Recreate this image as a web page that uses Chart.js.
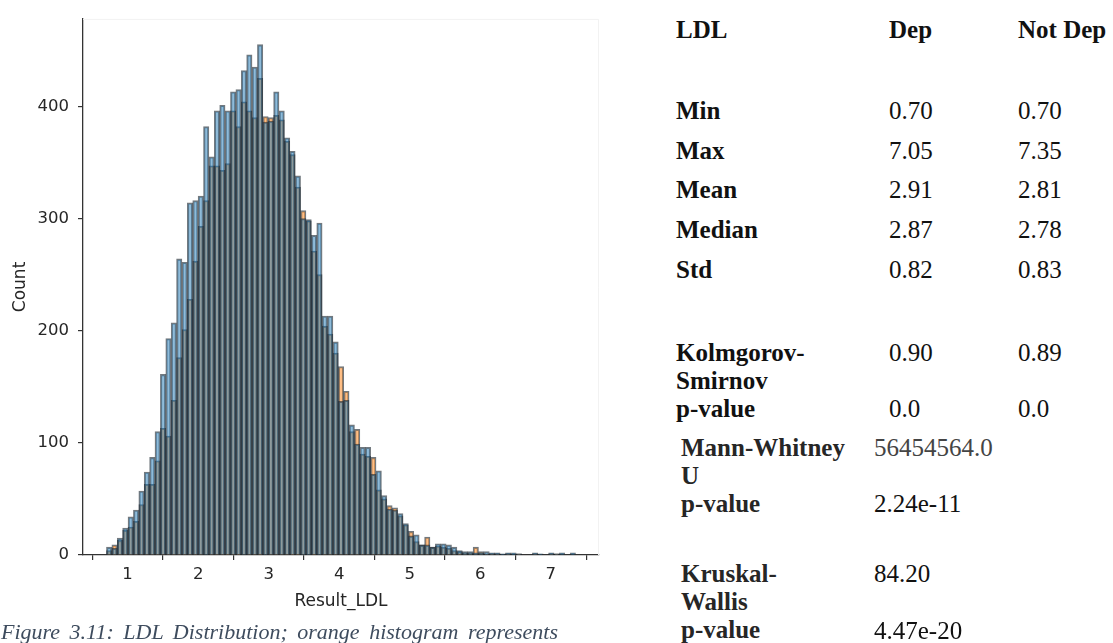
<!DOCTYPE html>
<html>
<head>
<meta charset="utf-8">
<title>LDL Distribution</title>
<script src="https://cdn.jsdelivr.net/npm/chart.js@4.4.1/dist/chart.umd.min.js"></script>
<style>
    html, body { margin: 0; padding: 0; background: #fff; }
    body { position: relative; width: 1113px; height: 643px; overflow: hidden; }
    #chart-ldl { position: absolute; left: 0; top: 0; filter: blur(0.45px); }
    .cell {
        position: absolute;
        font-family: "Liberation Serif", "Times New Roman", serif;
        font-size: 25px;
        line-height: 28px;
        white-space: nowrap;
        color: #111;
    }
    .lbl { font-weight: bold; }
    .soft { color: #262626; }
    .grey { color: #444; }
    .caption {
        position: absolute;
        left: 1px;
        top: 619px;
        width: 557px;
        font-family: "Liberation Serif", "Times New Roman", serif;
        font-style: italic;
        font-size: 22px;
        line-height: 26px;
        color: #3e4c5e;
        text-align: justify;
        text-align-last: justify;
        white-space: nowrap;
    }
</style>
</head>
<body>

<canvas id="chart-ldl" width="620" height="620"></canvas>

<!-- Tabella statistiche LDL -->
<div class="cell lbl" style="left:676px; top:16px;">LDL</div>
<div class="cell lbl" style="left:889px; top:16px;">Dep</div>
<div class="cell lbl" style="left:1018px; top:16px;">Not Dep</div>

<div class="cell lbl" style="left:676px; top:97px;">Min</div>
<div class="cell" style="left:889px; top:97px;">0.70</div>
<div class="cell" style="left:1018px; top:97px;">0.70</div>

<div class="cell lbl" style="left:676px; top:137px;">Max</div>
<div class="cell" style="left:889px; top:137px;">7.05</div>
<div class="cell" style="left:1018px; top:137px;">7.35</div>

<div class="cell lbl" style="left:676px; top:176px;">Mean</div>
<div class="cell" style="left:889px; top:176px;">2.91</div>
<div class="cell" style="left:1018px; top:176px;">2.81</div>

<div class="cell lbl" style="left:676px; top:216px;">Median</div>
<div class="cell" style="left:889px; top:216px;">2.87</div>
<div class="cell" style="left:1018px; top:216px;">2.78</div>

<div class="cell lbl" style="left:676px; top:256px;">Std</div>
<div class="cell" style="left:889px; top:256px;">0.82</div>
<div class="cell" style="left:1018px; top:256px;">0.83</div>

<div class="cell lbl" style="left:676px; top:339px;">Kolmgorov-<br>Smirnov<br>p-value</div>
<div class="cell" style="left:889px; top:339px;">0.90<br><br>0.0</div>
<div class="cell" style="left:1018px; top:339px;">0.89<br><br>0.0</div>

<div class="cell lbl soft" style="left:681px; top:434px;">Mann-Whitney<br>U<br>p-value</div>
<div class="cell grey" style="left:874px; top:434px;">56454564.0</div>
<div class="cell" style="left:874px; top:490px;">2.24e-11</div>

<div class="cell lbl soft" style="left:681px; top:560px;">Kruskal-<br>Wallis<br>p-value</div>
<div class="cell" style="left:874px; top:560px;">84.20</div>
<div class="cell" style="left:874px; top:617px;">4.47e-20</div>

<div class="caption">Figure 3.11: LDL Distribution; orange histogram represents</div>

<script>
document.addEventListener('DOMContentLoaded', function () {

    // ── Dati ───────────────────────────────────────────────────
    // range LDL (min/max complessivi) diviso in bin di uguale ampiezza
    var ldlMin = 0.70;
    var ldlMax = 7.35;
    var binCount = 87;

    // conteggi per bin, gruppo "Not Dep" (blu)
    var notDepCounts = [
        7, 6, 15, 24, 34, 40, 57, 74, 87, 110,
        161, 193, 207, 264, 261, 314, 316, 320, 382, 355,
        396, 401, 396, 413, 415, 432, 446, 435, 455, 386,
        387, 413, 396, 372, 360, 338, 300, 299, 285, 296,
        213, 213, 190, 137, 138, 116, 99, 96, 96, 72,
        75, 53, 41, 40, 37, 28, 17, 18, 9, 9,
        7, 10, 10, 9, 7, 4, 3, 3, 2, 2,
        3, 2, 2, 1, 2, 2, 1, 0, 0, 2,
        1, 0, 2, 1, 2, 0, 2
    ];

    // conteggi per bin, gruppo "Dep" (arancione)
    var depCounts = [
        4, 9, 13, 22, 25, 30, 45, 63, 63, 84,
        113, 106, 138, 176, 201, 228, 262, 293, 316, 347,
        347, 343, 349, 396, 382, 404, 396, 390, 425, 391,
        390, 392, 388, 369, 357, 328, 307, 298, 271, 250,
        204, 197, 180, 168, 146, 110, 112, 90, 88, 87,
        58, 50, 44, 42, 35, 27, 21, 12, 9, 16,
        7, 8, 7, 6, 4, 3, 2, 2, 7, 3,
        1, 1, 1, 0, 1, 0, 1, 0, 0, 1,
        0, 0, 1, 1, 0, 0, 0
    ];

    var xTicks = [1, 2, 3, 4, 5, 6, 7];
    var yTicks = [0, 100, 200, 300, 400];

    // centri dei bin
    var binWidth = (ldlMax - ldlMin) / binCount;
    var binCenters = [];
    for (var i = 0; i < binCount; i++) {
        binCenters.push(ldlMin + binWidth * (i + 0.5));
    }

    function toPoints(counts) {
        return counts.map(function (c, i) {
            return { x: binCenters[i], y: c };
        });
    }

    var textColor = '#262626';
    var axisColor = '#333';
    var tickFont = { family: 'DejaVu Sans', size: 16.5 };
    var titleFont = { family: 'DejaVu Sans', size: 17 };

    // bordo superiore/destro quasi invisibile dell'area del grafico
    var frame = {
        id: 'frame',
        beforeDatasetsDraw: function (chart) {
            var a = chart.chartArea;
            var c = chart.ctx;
            c.save();
            c.strokeStyle = '#f2f2f2';
            c.lineWidth = 1;
            c.beginPath();
            c.moveTo(a.left, a.top + 0.5);
            c.lineTo(a.right - 0.5, a.top + 0.5);
            c.lineTo(a.right - 0.5, a.bottom);
            c.stroke();
            c.restore();
        }
    };

    var ctx = document.getElementById('chart-ldl').getContext('2d');
    new Chart(ctx, {
        type: 'bar',
        data: {
            datasets: [
                {
                    label: 'Not Dep',
                    data: toPoints(notDepCounts),
                    backgroundColor: 'rgba(31,119,180,0.5)',
                    borderColor: 'rgba(28,38,48,0.62)',
                    borderWidth: 1.4,
                    order: 0
                },
                {
                    label: 'Dep',
                    data: toPoints(depCounts),
                    backgroundColor: 'rgba(255,127,14,0.5)',
                    borderColor: 'rgba(28,38,48,0.62)',
                    borderWidth: 1.4,
                    order: 1
                }
            ]
        },
        plugins: [frame],
        options: {
            responsive: false,
            animation: false,
            devicePixelRatio: 1,
            layout: { padding: { top: 13, right: 21, left: 0, bottom: 0 } },
            datasets: {
                bar: { barPercentage: 1, categoryPercentage: 1, grouped: false }
            },
            plugins: {
                legend: { display: false },
                tooltip: { enabled: false }
            },
            scales: {
                x: {
                    type: 'linear',
                    min: 0.3675,
                    max: 7.6825,
                    offset: false,
                    afterBuildTicks: function (s) {
                        s.ticks = xTicks.map(function (v) { return { value: v }; });
                    },
                    afterFit: function (s) { s.height = 65; },
                    ticks: { color: textColor, font: tickFont, padding: 5, maxRotation: 0 },
                    grid: { display: true, drawOnChartArea: false, drawTicks: true, tickLength: 5, color: axisColor, lineWidth: 1.2 },
                    border: { display: true, color: axisColor, width: 1.3 },
                    title: { display: true, text: 'Result_LDL', color: textColor, font: titleFont, padding: { top: 0, bottom: 8 } }
                },
                y: {
                    type: 'linear',
                    min: 0,
                    max: 478,
                    afterBuildTicks: function (s) {
                        s.ticks = yTicks.map(function (v) { return { value: v }; });
                    },
                    afterFit: function (s) { s.width = 83; },
                    ticks: { color: textColor, font: tickFont, padding: 9 },
                    grid: { display: true, drawOnChartArea: false, drawTicks: true, tickLength: 5, color: axisColor, lineWidth: 1.2 },
                    border: { display: true, color: axisColor, width: 1.3 },
                    title: { display: true, text: 'Count', color: textColor, font: titleFont, padding: { top: 10, bottom: 0 } }
                }
            }
        }
    });
});
</script>
</body>
</html>
